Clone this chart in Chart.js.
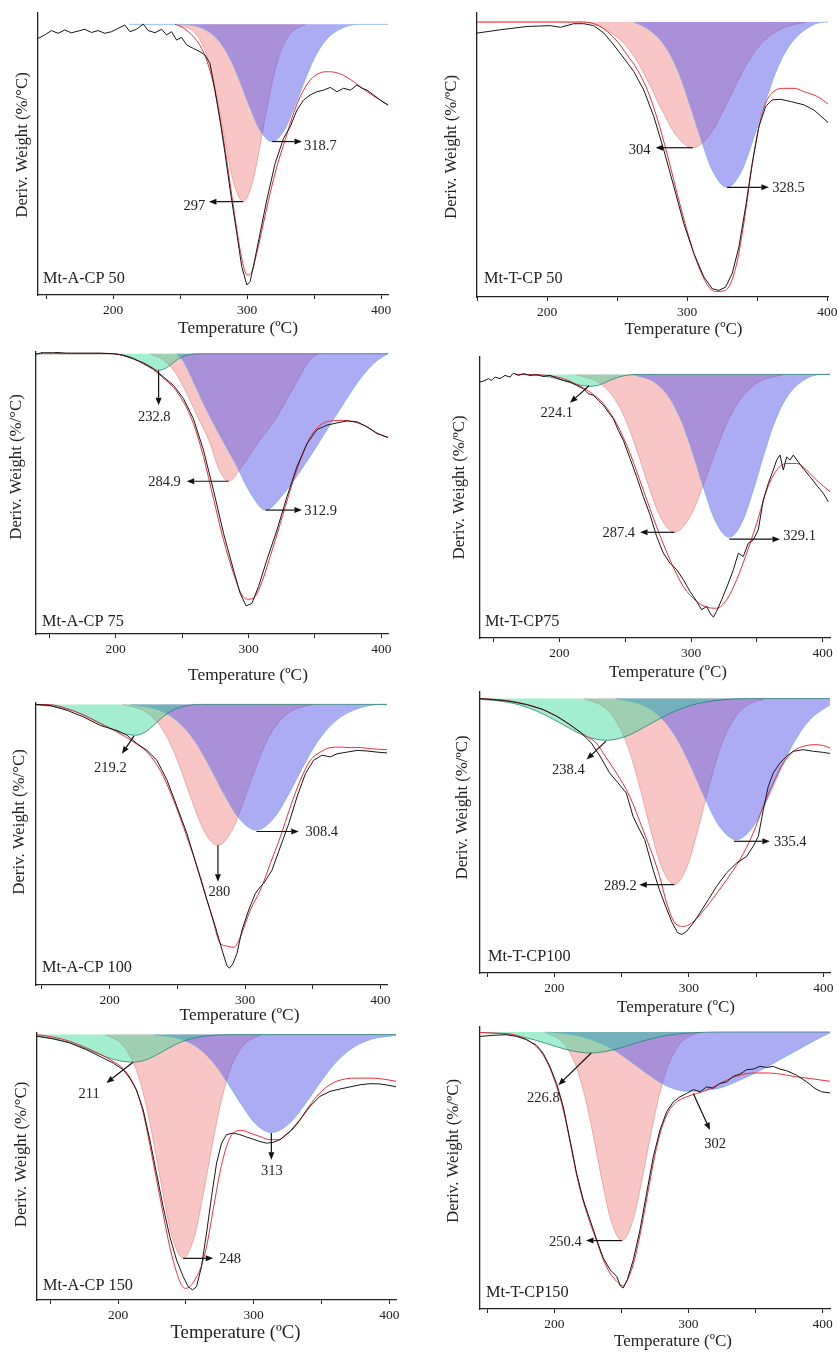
<!DOCTYPE html>
<html><head><meta charset="utf-8">
<script src="https://cdn.jsdelivr.net/npm/chart.js@4.4.0/dist/chart.umd.min.js"></script>
<style>
html,body{margin:0;padding:0;background:#fff;}
body{width:837px;height:1354px;position:relative;overflow:hidden;}
canvas{position:absolute;}
</style></head><body>
<script>
// ---------------- DATA ----------------
const panelNames = ['Mt-A-CP 50','Mt-T-CP 50','Mt-A-CP 75','Mt-T-CP75','Mt-A-CP 100','Mt-T-CP100','Mt-A-CP 150','Mt-T-CP150'];
const xTitle = 'Temperature (ºC)';
const yTitles = ['Deriv. Weight (%/°C)','Deriv. Weight (%/ºC)','Deriv. Weight (%/°C)','Deriv. Weight (%/ºC)','Deriv. Weight (%/°C)','Deriv. Weight (%/ºC)','Deriv. Weight (%/°C)','Deriv. Weight (%/ºC)'];
const tickValues = [150, 200, 250, 300, 350, 400];
const labelledTicks = [200, 300, 400];
const xRanges = [[143.9,405.2],[150,400.5],[140,405],[139.7,405.6],[145.6,404.9],[144.7,405],[140.2,404.9],[144.6,405.5]];
const yTops = [4.2, 3.3, 0.6, 6.6, 0.5, 2.4, 0.6, 1.8];
const yBottom = -100;

// Panel 1: Mt-A-CP 50
const p1Exp = [[143.9,-5.2],[148.9,-3.9],[153.9,-2.3],[158.9,-3.3],[163.8,-2.1],[168.8,-3.1],[173.8,-2.5],[178.8,-1.8],[183.8,-3.0],[188.8,-2.3],[193.8,-3.3],[198.8,-2.7],[203.7,-1.5],[208.7,-0.2],[212.5,-2.7],[217.5,-1.8],[222.4,0.1],[226.2,-2.3],[231.2,-3.1],[236.2,-1.8],[239.9,-3.9],[243.6,-2.7],[247.4,-5.8],[251.1,-4.8],[254.9,-7.6],[259.9,-8.9],[264.8,-10.1],[268.6,-11.3],[272.3,-14.5],[276.1,-24.5],[279.8,-35.5],[283.5,-47.5],[287.3,-61.0],[292.3,-77.2],[296.0,-89.5],[299.8,-96.3],[302.2,-95.1],[304.7,-89.5],[309.7,-77.2],[314.7,-64.9],[320.9,-51.4],[327.2,-42.1],[332.2,-37.8],[337.2,-31.7],[342.1,-28.0],[347.1,-26.1],[352.1,-24.9],[357.1,-24.3],[362.1,-23.3],[367.1,-24.9],[372.1,-23.6],[377.1,-24.3],[382.0,-22.4],[385.8,-23.6],[389.5,-24.3],[394.5,-26.1],[399.5,-28.0],[405.2,-29.8]];
const p1Fit = [[246.1,0],[251.1,-0.9],[256.1,-2.7],[261.1,-5.2],[266.1,-8.9],[269.8,-13.2],[274.8,-21.8],[279.8,-34.7],[284.8,-50.1],[289.8,-67.4],[294.8,-83.4],[298.5,-91.4],[300.2,-92.6],[303.5,-91.4],[307.2,-84.6],[312.2,-73.5],[317.2,-62.4],[322.2,-52.6],[328.4,-42.7],[333.4,-34.7],[339.7,-26.7],[347.1,-20.6],[354.6,-17.9],[360.8,-17.5],[369.6,-18.3],[379.6,-21.2],[389.5,-24.9],[399.5,-28.0],[405.2,-29.8]];
const p1Red = [[247,0],[261.5,-3.3],[268.7,-9.8],[274.5,-19.7],[279.9,-32.8],[284.7,-45.9],[290.3,-59.0],[297,-65.5],[303.7,-59.0],[309.3,-45.9],[314.1,-32.8],[319.5,-19.7],[325.3,-9.8],[332.5,-3.3],[343.4,0]];
const p1Blue = [[212,0],[250,0],[269.7,-2.2],[279.7,-6.5],[287.7,-13.0],[295.1,-21.7],[301.8,-30.3],[309.5,-39.0],[318.7,-43.3],[327.9,-39.0],[335.6,-30.3],[342.3,-21.7],[349.7,-13.0],[357.7,-6.5],[367.7,-2.2],[382.7,0],[405.2,0]];
const p1Green = null;
const p1Arrows = [
  {text:'318.7', from:[318.7,-43.3], to:[341,-43.3], at:[342.5,-45], align:'left'},
  {text:'297', from:[297,-65.5], to:[271.5,-65.5], at:[268.8,-67], align:'right'}
];

// Panel 2: Mt-T-CP 50
const p2Exp = [[150,-4.0],[166.7,-2.8],[185.7,-1.6],[202.4,-1.3],[209.5,-1.9],[219,-0.6],[226.2,-0.6],[233.3,-1.3],[240.5,-4.0],[247.6,-8.3],[254.8,-13.1],[261.9,-18.0],[269,-24.7],[276.2,-34.4],[283.3,-46.5],[290.5,-59.9],[297.6,-73.3],[304.8,-84.2],[311.9,-92.7],[317.9,-97.0],[322.6,-97.6],[327.4,-96.4],[332.1,-91.5],[336.9,-81.8],[341.7,-67.2],[346.4,-51.4],[351.2,-38.0],[356,-30.7],[360.7,-28.3],[366.7,-28.1],[373.8,-28.9],[383.3,-30.1],[390.5,-32.0],[400.5,-36.5]];
const p2Fit = [[150,0],[226.2,0],[235.7,-1.0],[242.9,-3.4],[250,-7.0],[257.1,-11.9],[264.3,-17.2],[271.4,-24.5],[278.6,-35],[285.7,-48],[292.9,-62.5],[300,-76],[307.1,-87.5],[314.3,-95.5],[320.2,-98.0],[326.2,-97.8],[331,-95.1],[335.7,-87],[340.5,-73],[345.2,-56],[350,-41],[356,-29.5],[361.9,-25.2],[369,-24.1],[376.2,-24.1],[383.3,-25.3],[392.9,-27.1],[400.5,-29.8]];
const p2Red = [[150,0],[226,0],[240.3,-2.3],[253.3,-6.9],[263.7,-13.7],[273.3,-22.9],[282,-32.0],[292,-41.1],[304,-45.7],[316,-41.1],[326,-32.0],[334.7,-22.9],[344.3,-13.7],[354.7,-6.9],[367.7,-2.3],[385,0]];
const p2Blue = [[262,0],[273.4,-3.0],[284.6,-9.0],[293.6,-18.0],[301.9,-30.1],[309.5,-42.1],[318.1,-54.1],[328.5,-60.1],[338.9,-54.1],[347.5,-42.1],[355.1,-30.1],[363.4,-18.0],[372.4,-9.0],[383.6,-3.0],[398,0],[400.5,0]];
const p2Green = null;
const p2Arrows = [
  {text:'304', from:[304,-45.7], to:[277.4,-45.7], at:[273.8,-46.6], align:'right'},
  {text:'328.5', from:[328.5,-60.1], to:[358.3,-60.1], at:[360.7,-60.6], align:'left'}
];

// Panel 3: Mt-A-CP 75
const p3Exp = [[140,-0.2],[145.5,0.5],[153,0.5],[163.1,0.2],[175.6,0.2],[188.2,0.2],[198.2,0],[205.8,-0.6],[213.3,-1.8],[220.9,-3.3],[228.4,-5.3],[235.9,-8.3],[243.5,-11.3],[251,-16.0],[258.5,-23.2],[266.1,-34.4],[273.6,-48.7],[281.2,-64.1],[288.7,-77.2],[293.7,-85.5],[298.2,-90.0],[302.5,-89.1],[307.5,-83.1],[313.8,-73.6],[321.4,-62.9],[328.9,-51.1],[336.4,-40.4],[344,-32.1],[351.5,-27.1],[359,-25.5],[366.6,-24.7],[374.1,-24.0],[381.7,-24.3],[389.2,-26.1],[396.7,-28.5],[405,-29.9]];
const p3Fit = [[140,0],[198.2,0],[205.8,-0.7],[213.3,-1.9],[220.9,-3.6],[228.4,-5.7],[235.9,-8.7],[243.5,-12.1],[251,-17.2],[258.5,-24.9],[266.1,-36.8],[273.6,-51.7],[281.2,-66.5],[288.7,-78.4],[295,-86.1],[300,-87.6],[305,-86.6],[310.1,-81.4],[316.3,-72.4],[323.9,-60.6],[331.4,-48.7],[339,-38.0],[346.5,-29.7],[354,-25.5],[361.6,-24.0],[371.6,-23.8],[379.1,-24.3],[389.2,-26.1],[396.7,-28.3],[405,-29.9]];
const p3Red = [[226,0],[236,-2.3],[245,-6.8],[253,-13.7],[262,-22.8],[271,-31.9],[277.5,-41.0],[284.9,-45.5],[294,-41.0],[307,-31.9],[321,-22.8],[332,-13.7],[340,-6.8],[346,-2.3],[352,0]];
const p3Blue = [[246,0],[251,-2.8],[257,-8.4],[265,-16.7],[277,-27.9],[290,-39.1],[302,-50.2],[312.9,-55.8],[326,-50.2],[343,-39.1],[358,-27.9],[373,-16.7],[385,-8.4],[396,-2.8],[405,0]];
const p3Green = [[140,0],[194.4,0],[203.4,-0.3],[209.4,-0.9],[214.2,-1.8],[218.6,-3.0],[222.7,-4.1],[227.3,-5.3],[232.8,-5.9],[237.2,-5.3],[241,-4.1],[244,-3.0],[247.5,-1.8],[251.3,-0.9],[256.1,-0.3],[263.2,0],[405,0]];
const p3Arrows = [
  {text:'232.8', from:[232.3,-5.9], to:[232.3,-18.4], at:[229,-22.8], align:'center'},
  {text:'284.9', from:[284.9,-45.5], to:[253.5,-45.5], at:[249,-45.8], align:'right'},
  {text:'312.9', from:[312.9,-55.8], to:[340.2,-55.8], at:[342,-56.3], align:'left'}
];

// Panel 4: Mt-T-CP75
const p4Exp = [[139.7,-2.9],[143.5,-2.3],[146,-1.6],[148.6,-2.3],[151.1,-1.0],[154.9,-1.6],[158.7,-0.4],[162.5,-1.0],[165.1,0.5],[168.9,-0.4],[172.7,0.3],[177.7,-0.4],[182.8,-0.1],[187.8,-0.8],[192.9,-0.4],[198,-1.4],[203,-2.3],[208.1,-2.9],[213.2,-4.2],[218.2,-5.4],[222,-7.3],[225.8,-7.9],[229.6,-9.8],[233.4,-11.7],[237.2,-14.3],[241,-16.8],[244.8,-21.2],[248.6,-25.0],[253.7,-31.9],[258.7,-38.8],[263.8,-46.4],[268.9,-53.3],[273.9,-61.5],[279,-67.8],[284.1,-71.7],[289.1,-74.1],[294.2,-77.9],[299.2,-82.3],[304.3,-86.1],[308.1,-89.3],[311.9,-88.0],[314.4,-90.5],[317,-92.1],[319.5,-89.8],[323.3,-85.5],[328.4,-79.2],[332.2,-74.1],[336,-67.8],[339.7,-69.1],[343.5,-64.1],[347.3,-62.8],[351.1,-59.0],[354.9,-47.7],[358.7,-41.4],[362.5,-36.3],[365.1,-32.5],[367.6,-30.6],[370.1,-36.3],[372.7,-31.3],[375.2,-32.5],[377.7,-30.6],[381.5,-33.2],[385.3,-35.7],[390.4,-38.8],[395.4,-42.0],[400.5,-45.1],[404.3,-48.3]];
const p4Fit = [[166.3,0],[180.3,-0.1],[192.9,-0.5],[203,-1.6],[213.2,-3.8],[223.3,-6.7],[233.4,-11.1],[243.5,-18.7],[253.7,-30.0],[263.8,-43.9],[273.9,-57.8],[284.1,-70.4],[294.2,-80.5],[304.3,-86.1],[311.9,-88.3],[319.5,-88.7],[327.1,-85.5],[334.7,-77.9],[342.3,-67.8],[349.9,-56.5],[357.5,-43.9],[365.1,-36.3],[372.7,-33.8],[380.3,-33.8],[387.8,-36.3],[395.4,-40.1],[405.6,-44.5]];
const p4Red = [[212.2,0],[229.8,-3.0],[241.6,-9.0],[251,-18.0],[259.7,-30.0],[267.5,-41.9],[276.6,-53.9],[287.4,-59.9],[299.4,-53.9],[309.4,-41.9],[318.1,-30.0],[327.7,-18.0],[338.1,-9.0],[351.1,-3.0],[370.6,0]];
const p4Blue = [[255.5,0],[272.7,-3.1],[284.2,-9.3],[293.4,-18.5],[302,-30.9],[309.7,-43.3],[318.5,-55.6],[329.1,-61.8],[339.2,-55.6],[347.7,-43.3],[355.1,-30.9],[363.2,-18.5],[372,-9.3],[383,-3.1],[399.5,0],[405.6,0]];
const p4Green = [[166.5,0],[180,-0.2],[189,-0.7],[196.2,-1.4],[202.9,-2.3],[208.9,-3.2],[215.8,-4.1],[224.1,-4.5],[229.6,-4.1],[234.2,-3.2],[238.3,-2.3],[242.7,-1.4],[247.5,-0.7],[253.5,-0.2],[262.5,0],[405.6,0]];
const p4Arrows = [
  {text:'224.1', from:[222.5,-4.3], to:[208.1,-10.8], at:[198,-14.6], align:'center'},
  {text:'287.4', from:[287.4,-59.9], to:[261.3,-59.9], at:[257.5,-60.3], align:'right'},
  {text:'329.1', from:[329.1,-62.5], to:[367.6,-62.5], at:[370.1,-61.2], align:'left'}
];

// Panel 5: Mt-A-CP 100
const p5Exp = [[145.6,0],[156.2,-0.4],[168.5,-2.1],[180.8,-4.5],[193.1,-7.5],[205.4,-9.3],[212.8,-11.0],[220.2,-14.0],[227.6,-16.4],[234.9,-19.9],[242.4,-27.0],[249.8,-36.5],[257.1,-46.0],[264.5,-57.9],[271.9,-69.8],[278.1,-79.2],[283,-87.5],[286.7,-93.2],[288.5,-94.0],[291,-92.5],[294.1,-88.7],[297.8,-80.4],[302.7,-73.3],[307.6,-67.4],[311.3,-65.0],[313.8,-63.8],[319.9,-59.1],[326.1,-50.8],[332.3,-42.5],[338.4,-33.0],[344.6,-24.7],[350.7,-19.9],[356.9,-18.1],[363.1,-18.7],[368,-17.6],[375.4,-17.0],[382.8,-16.4],[390.1,-16.6],[397.5,-17.0],[404.9,-17.3]];
const p5Fit = [[145.6,0],[156.2,-0.1],[168.5,-1.5],[180.8,-3.9],[193.1,-6.9],[205.4,-9.8],[217.7,-13.4],[227.6,-17.0],[237.4,-23.5],[247.3,-34.2],[257.1,-47.2],[267,-61.4],[275.6,-75.7],[281.8,-85.2],[286.7,-86.1],[291.6,-86.6],[296.6,-82.8],[303.9,-73.3],[311.3,-66.2],[318.7,-56.7],[326.1,-47.2],[333.5,-36.5],[340.9,-27.0],[348.3,-19.9],[355.7,-17.0],[363.1,-15.4],[370.4,-15.2],[377.8,-15.4],[385.2,-15.4],[392.6,-15.8],[404.9,-16.1]];
const p5Red = [[209.6,0],[226.1,-2.5],[237.1,-7.5],[245.9,-15.1],[254,-25.1],[261.4,-35.1],[269.9,-45.2],[280,-50.2],[290.1,-45.2],[298.6,-35.1],[306,-25.1],[314.1,-15.1],[322.9,-7.5],[333.9,-2.5],[350.4,0]];
const p5Blue = [[215.6,0],[237.3,-2.2],[251.8,-6.7],[263.4,-13.4],[274.2,-22.4],[283.9,-31.4],[295.1,-40.3],[308.4,-44.8],[321.7,-40.3],[332.9,-31.4],[342.6,-22.4],[353.4,-13.4],[365,-6.7],[379.5,-2.2],[401.2,0],[404.9,0]];
const p5Green = [[145.6,-0.2],[155.5,-0.55],[168.5,-1.65],[178.9,-3.3],[188.5,-5.5],[197.2,-7.7],[207.2,-9.9],[219.2,-11.0],[226.1,-9.9],[231.9,-7.7],[236.9,-5.5],[242.5,-3.3],[248.5,-1.65],[256,-0.55],[267.2,0],[404.9,0]];
const p5Arrows = [
  {text:'219.2', from:[218,-11.2], to:[209.1,-17.6], at:[200.5,-22.9], align:'center'},
  {text:'280', from:[280,-50.2], to:[280,-63.2], at:[281,-66.9], align:'center'},
  {text:'308.4', from:[308.4,-45.3], to:[339.7,-45.3], at:[344.6,-45.7], align:'left'}
];

// Panel 6: Mt-T-CP100
const p6Exp = [[144.7,0],[154.6,-0.4],[167,-1.0],[179.4,-2.2],[191.8,-4.0],[201.7,-6.4],[211.6,-9.5],[220,-12.5],[227.5,-16.2],[234,-21],[241.1,-27.1],[247,-30.5],[253.5,-34.4],[258.5,-42.9],[263,-47.5],[267.2,-51.4],[273.4,-62.3],[278,-69.5],[283,-76],[287.5,-81.5],[291.5,-85.2],[294.7,-86.0],[298.4,-84.8],[303.3,-81.8],[308.3,-78.1],[314.5,-73.3],[320.7,-68.4],[328.1,-63.5],[335.6,-59.9],[343,-57.5],[347.9,-53.8],[351.7,-50.2],[355.4,-40.5],[359.1,-32.0],[362.8,-27.1],[367.8,-23.5],[372.7,-21.0],[377.7,-19.2],[385.1,-18.6],[392.6,-19.2],[400,-19.6],[405,-20.0]];
const p6Fit = [[144.7,0],[159.6,-0.4],[172,-1.3],[184.4,-2.8],[196.8,-5.2],[206.7,-7.9],[216.6,-11.3],[224,-13.8],[231.2,-16.2],[238.5,-21.5],[246.1,-27.1],[256,-35.6],[265.9,-47.8],[273.4,-57.5],[278.3,-64.8],[283.5,-74.5],[289.7,-81.8],[295.9,-83.0],[302.1,-81.8],[309.5,-78.1],[318.2,-72.7],[328.1,-66.0],[338,-58.7],[347.9,-49.0],[355.4,-39.2],[362.8,-30.7],[370.3,-23.5],[377.7,-19.2],[385.1,-17.4],[393.8,-16.8],[400,-17.1],[405,-18.0]];
const p6Red = [[222,0],[237.7,-3.4],[248.2,-10.2],[256.6,-20.3],[264.4,-33.9],[271.5,-47.5],[279.5,-61.0],[289.2,-67.8],[298.9,-61.0],[306.9,-47.5],[314,-33.9],[321.8,-20.3],[330.2,-10.2],[340.7,-3.4],[356.4,0]];
const p6Blue = [[245.8,0],[266.8,-2.6],[280.8,-7.7],[292,-15.4],[302.4,-25.7],[311.7,-36.0],[322.5,-46.3],[335.4,-51.4],[348.3,-46.3],[359.1,-36.0],[368.4,-25.7],[378.8,-15.4],[390,-7.7],[404,-2.6],[405,-2.3]];
const p6Green = [[144.7,-0.3],[157.5,-0.76],[174,-2.3],[187.2,-4.6],[199.5,-7.6],[210.5,-10.6],[223.2,-13.7],[238.4,-15.2],[253.6,-13.7],[266.3,-10.6],[277.3,-7.6],[289.6,-4.6],[302.8,-2.3],[319.3,-0.76],[344,0],[405,0]];
const p6Arrows = [
  {text:'238.4', from:[238.4,-15.5], to:[224,-22.2], at:[210.4,-26.2], align:'center'},
  {text:'289.2', from:[289.2,-67.8], to:[263.2,-67.8], at:[261.2,-68.2], align:'right'},
  {text:'335.4', from:[333.5,-52.0], to:[360.3,-52.0], at:[363.3,-52.3], align:'left'}
];

// Panel 7: Mt-A-CP 150
const p7Exp = [[140.2,-0.6],[152,-1.6],[164.3,-3.1],[176.6,-5.7],[186.5,-8.2],[196.3,-10.7],[203.7,-13.2],[208.6,-16.4],[213.5,-20.8],[218.5,-28.3],[223.4,-39.6],[228.3,-52.2],[233.2,-64.8],[238.1,-76.1],[243.1,-84.9],[248,-91.2],[251.7,-95.0],[254.9,-96.2],[257.8,-95.0],[261.5,-87.4],[265.2,-74.8],[268.9,-61.0],[272.6,-48.4],[276.3,-40.9],[279.9,-37.7],[284.9,-37.1],[289.8,-37.7],[294.7,-38.6],[299.6,-39.4],[304.6,-40.3],[309.5,-40.9],[314.4,-40.6],[319.3,-39.6],[326.7,-36.5],[334.1,-32.1],[341.5,-27.0],[348.8,-23.3],[356.2,-21.4],[363.6,-20.5],[371,-19.7],[378.4,-18.9],[385.7,-18.5],[393.1,-18.6],[400.5,-19.2],[404.9,-19.7]];
const p7Fit = [[140.2,0],[152,-0.9],[164.3,-2.5],[176.6,-5.0],[186.5,-7.3],[196.3,-10.1],[203.7,-12.8],[208.6,-16.0],[213.5,-21],[218.5,-29.5],[223.4,-41.5],[228.3,-54.5],[233.2,-67.5],[238.1,-80],[243.1,-89.5],[247.5,-95.0],[250.4,-95.6],[254.1,-94.3],[257.5,-91.5],[260.3,-88.7],[265.2,-79.9],[270.1,-66.0],[275,-52.2],[280,-42.1],[284.9,-37.1],[291,-36.1],[297.2,-37.1],[304.6,-38.4],[311.9,-39.6],[318.1,-39.6],[324.2,-37.7],[331.6,-34.0],[339,-28.3],[346.4,-23.3],[353.8,-19.7],[361.1,-17.6],[368.5,-16.6],[375.9,-16.4],[383.3,-16.4],[393.1,-16.6],[404.9,-17.6]];
const p7Red = [[190.4,0],[203.9,-4.2],[212.9,-12.6],[220.1,-25.3],[226.8,-42.2],[232.8,-59.0],[239.7,-75.9],[248,-84.3],[256.3,-75.9],[263.2,-59.0],[269.2,-42.2],[275.9,-25.3],[283.1,-12.6],[292.1,-4.2],[305.6,0]];
const p7Blue = [[226.6,0],[246.8,-1.8],[260.3,-5.5],[271.1,-11.1],[281.1,-18.5],[290.2,-25.8],[300.6,-33.2],[313,-36.9],[326.8,-33.2],[338.4,-25.8],[348.4,-18.5],[359.5,-11.1],[371.5,-5.5],[386.5,-1.8],[404.9,-0.35]];
const p7Green = [[140.2,-0.65],[152.5,-1.56],[164.5,-3.1],[175.6,-5.2],[185.6,-7.3],[197.2,-9.4],[211,-10.4],[221.1,-9.4],[229.6,-7.3],[237,-5.2],[245.1,-3.1],[253.9,-1.56],[264.9,-0.52],[281.4,0],[404.9,0]];
const p7Arrows = [
  {text:'211', from:[211,-10.4], to:[191.4,-18.2], at:[178.6,-22.3], align:'center'},
  {text:'248', from:[248,-84.3], to:[270.1,-84.3], at:[274.5,-84.7], align:'left'},
  {text:'313', from:[313,-37.1], to:[313,-47.2], at:[313.3,-51.6], align:'center'}
];

// Panel 8: Mt-T-CP150
const p8Exp = [[144.6,-1.6],[154.5,-1.2],[164.5,-1.0],[171.9,-1.6],[179.4,-2.8],[186.8,-4.8],[191.8,-7.8],[196.8,-12.6],[201.7,-18.6],[206.7,-27.0],[211.7,-39.0],[216.6,-51.0],[221.6,-60.6],[226.6,-67.8],[231.6,-75.0],[236.5,-81.6],[241.5,-85.8],[246.5,-88.2],[249.4,-91.8],[251.4,-92.4],[254.4,-89.4],[258.9,-82.2],[263.9,-71.4],[268.8,-58.2],[273.8,-45.0],[278.8,-35.4],[283.7,-28.8],[288.7,-25.2],[293.7,-23.4],[298.6,-22.2],[303.6,-20.8],[308.6,-21.6],[313.5,-19.8],[318.5,-20.3],[323.5,-18.6],[328.4,-18.0],[333.4,-16.0],[338.4,-15.2],[343.4,-13.6],[348.3,-13.4],[353.3,-12.4],[358.3,-12.8],[363.2,-12.4],[368.2,-13.4],[373.2,-14.0],[380.6,-15.6],[388.1,-18.0],[394.3,-20.4],[399.3,-21.6],[405.5,-22.0]];
const p8Fit = [[144.6,-0.2],[154.5,-0.4],[164.5,-0.6],[171.9,-1.2],[179.4,-2.8],[186.8,-5.4],[191.8,-8.4],[196.8,-13.2],[201.7,-19.6],[206.7,-28.2],[211.7,-39.6],[216.6,-51.6],[221.6,-61.2],[226.6,-68.8],[231.6,-75.6],[236.5,-82.2],[241.5,-87.0],[246.5,-90.0],[250.9,-91.6],[255.2,-88.8],[260.1,-81.6],[265.1,-70.2],[270.1,-57.0],[275,-44.4],[280,-34.8],[285,-28.8],[291.2,-25.2],[298.6,-23.4],[306.1,-22.2],[313.5,-21.0],[321,-19.2],[328.4,-17.4],[335.9,-16.0],[343.4,-15.0],[350.8,-14.8],[358.3,-14.8],[365.7,-15.0],[373.2,-15.6],[380.6,-16.2],[390.6,-16.8],[405.5,-17.8]];
const p8Red = [[192.8,0],[206.3,-3.8],[215.3,-11.3],[222.5,-22.6],[229.2,-37.7],[235.2,-52.7],[242.1,-67.8],[250.4,-75.3],[258.7,-67.8],[265.6,-52.7],[271.6,-37.7],[278.3,-22.6],[285.5,-11.3],[294.5,-3.8],[308,0]];
const p8Blue = [[195,0],[215,-1.1],[230,-3.2],[244,-6.4],[257,-10.7],[269,-15.0],[283,-19.3],[295,-21.2],[302,-21.4],[310,-21.2],[325,-20.0],[340,-17.0],[355,-13.5],[370,-9.5],[385,-5.5],[395,-2.8],[405.5,-0.3]];
const p8Green = [[144.6,-0.17],[153.5,-0.38],[168.5,-1.14],[180.5,-2.28],[191.6,-3.8],[201.6,-5.3],[213.2,-6.8],[227,-7.6],[240.8,-6.8],[252.4,-5.3],[262.4,-3.8],[273.5,-2.28],[285.5,-1.14],[300.5,-0.38],[323,0],[405.5,0]];
const p8Arrows = [
  {text:'226.8', from:[227.5,-7.6], to:[203,-19.2], at:[191.8,-24.0], align:'center'},
  {text:'250.4', from:[250.4,-75.3], to:[223.6,-75.3], at:[220.4,-75.8], align:'right'},
  {text:'302', from:[303.6,-22.2], to:[316,-35.4], at:[319.8,-40.5], align:'center'}
];

// ---------------- LAYOUT (positions/styles only) ----------------
const panelBoxes = [
  {L:38, T:13, R:388, B:295,  xt:[25,33,17.3], yt:[15,-9],  lab:[5,-16]},
  {L:477,T:13, R:828, B:297,  xt:[31,33,17],   yt:[25,-8],  lab:[7,-18]},
  {L:36, T:352,R:388, B:634,  xt:[36,41,17.3], yt:[19,-26], lab:[6,-12]},
  {L:480,T:357,R:830, B:638,  xt:[13,35,17],   yt:[20,-10], lab:[5,-16]},
  {L:36, T:703,R:387, B:985,  xt:[28,30,17.3], yt:[16,-22], lab:[6,-17]},
  {L:480,T:692,R:830, B:973,  xt:[21,35,17],   yt:[17,-25], lab:[8,-16]},
  {L:37, T:1033,R:396,B:1300, xt:[19,33,18.8], yt:[15,-12], lab:[6,-14]},
  {L:480,T:1027,R:830,B:1309, xt:[18,33,17],   yt:[26,-17], lab:[6,-16]}
];
const FONT = '"Liberation Serif", "Times New Roman", serif';
const TEXT = '#222';

const panels = [
  {exp:p1Exp, fit:p1Fit, red:p1Red, blue:p1Blue, green:p1Green, arrows:p1Arrows},
  {exp:p2Exp, fit:p2Fit, red:p2Red, blue:p2Blue, green:p2Green, arrows:p2Arrows},
  {exp:p3Exp, fit:p3Fit, red:p3Red, blue:p3Blue, green:p3Green, arrows:p3Arrows},
  {exp:p4Exp, fit:p4Fit, red:p4Red, blue:p4Blue, green:p4Green, arrows:p4Arrows},
  {exp:p5Exp, fit:p5Fit, red:p5Red, blue:p5Blue, green:p5Green, arrows:p5Arrows},
  {exp:p6Exp, fit:p6Fit, red:p6Red, blue:p6Blue, green:p6Green, arrows:p6Arrows},
  {exp:p7Exp, fit:p7Fit, red:p7Red, blue:p7Blue, green:p7Green, arrows:p7Arrows},
  {exp:p8Exp, fit:p8Fit, red:p8Red, blue:p8Blue, green:p8Green, arrows:p8Arrows}
];

function drawArrow(ctx, x1, y1, x2, y2) {
  const ang = Math.atan2(y2 - y1, x2 - x1);
  const hl = 7.5, hw = 3;
  const bx = x2 - hl * Math.cos(ang), by = y2 - hl * Math.sin(ang);
  ctx.beginPath(); ctx.moveTo(x1, y1); ctx.lineTo(bx, by); ctx.stroke();
  ctx.beginPath(); ctx.moveTo(x2, y2);
  ctx.lineTo(bx + hw * Math.sin(ang), by - hw * Math.cos(ang));
  ctx.lineTo(bx - hw * Math.sin(ang), by + hw * Math.cos(ang));
  ctx.closePath(); ctx.fill();
}

function makeOverlay(i) {
  const b = panelBoxes[i];
  const p = panels[i];
  return {
    id: 'overlay' + i,
    afterDraw(chart) {
      const ctx = chart.ctx, xs = chart.scales.x, ys = chart.scales.y, ca = chart.chartArea;
      ctx.save();
      ctx.strokeStyle = '#111'; ctx.fillStyle = '#111'; ctx.lineWidth = 1.2;
      p.arrows.forEach(a => {
        drawArrow(ctx, xs.getPixelForValue(a.from[0]), ys.getPixelForValue(a.from[1]),
                       xs.getPixelForValue(a.to[0]), ys.getPixelForValue(a.to[1]));
      });
      ctx.fillStyle = TEXT; ctx.textBaseline = 'middle';
      ctx.font = '14.5px ' + FONT;
      p.arrows.forEach(a => {
        ctx.textAlign = a.align;
        ctx.fillText(a.text, xs.getPixelForValue(a.at[0]), ys.getPixelForValue(a.at[1]));
      });
      // panel label
      ctx.font = '16.3px ' + FONT; ctx.textAlign = 'left';
      ctx.fillText(panelNames[i], ca.left + b.lab[0], ca.bottom + b.lab[1]);
      // x title
      ctx.font = b.xt[2] + 'px ' + FONT; ctx.textAlign = 'center';
      ctx.fillText(xTitle, (ca.left + ca.right) / 2 + b.xt[0], ca.bottom + b.xt[1]);
      // y title
      ctx.font = '16.8px ' + FONT;
      ctx.translate(ca.left - b.yt[0], (ca.top + ca.bottom) / 2 + b.yt[1]);
      ctx.rotate(-Math.PI / 2);
      ctx.fillText(yTitles[i], 0, 0);
      ctx.restore();
    }
  };
}

const toXY = arr => arr.map(([x, y]) => ({x, y}));

panels.forEach((p, i) => {
  const b = panelBoxes[i];
  const YW = 40, TP = 8, XH = 52;
  const rp = Math.min(14, 837 - b.R);
  const W = b.R - b.L + YW + rp, H = b.B - b.T + TP + XH;
  const cv = document.createElement('canvas');
  cv.width = W; cv.height = H;
  cv.style.left = (b.L - YW) + 'px'; cv.style.top = (b.T - TP) + 'px';
  cv.style.width = W + 'px'; cv.style.height = H + 'px';
  document.body.appendChild(cv);

  const ds = [
    {label:'Experimental', data:toXY(p.exp), borderColor:'#161616', borderWidth:1, pointRadius:0, fill:false, tension:0, order:0},
    {label:'Fitted', data:toXY(p.fit), borderColor:'#e6303a', borderWidth:1, pointRadius:0, fill:false, cubicInterpolationMode:'monotone', order:1}
  ];
  if (p.green) ds.push({label:'Peak 1', data:toXY(p.green), borderColor:'rgba(35,125,110,0.85)', borderWidth:0.9,
    backgroundColor:'rgba(50,215,150,0.45)', fill:'origin', pointRadius:0, cubicInterpolationMode:'monotone', order:2});
  ds.push({label:'Peak 3', data:toXY(p.blue), borderColor:'rgba(110,170,235,0.8)', borderWidth:0.9,
    backgroundColor:'rgba(90,90,235,0.5)', fill:'origin', pointRadius:0, cubicInterpolationMode:'monotone', order:3});
  ds.push({label:'Peak 2', data:toXY(p.red), borderColor:'rgba(225,120,120,0.6)', borderWidth:0.9,
    backgroundColor:'rgba(240,120,120,0.42)', fill:'origin', pointRadius:0, cubicInterpolationMode:'monotone', order:4});

  new Chart(cv, {
    type: 'line',
    data: {datasets: ds},
    options: {
      responsive: false, animation: false, devicePixelRatio: 1,
      layout: {padding: {top: TP, right: rp, left: 0, bottom: 0}},
      plugins: {legend: {display: false}, tooltip: {enabled: false}},
      scales: {
        x: {
          type: 'linear', min: xRanges[i][0], max: xRanges[i][1],
          afterBuildTicks: s => { s.ticks = tickValues.filter(v => v >= s.min && v <= s.max).map(v => ({value: v})); },
          ticks: {callback: v => labelledTicks.includes(v) ? String(v) : '', font: {family: FONT, size: 13.5}, color: TEXT,
                  padding: 3, maxRotation: 0, autoSkip: false},
          grid: {display: true, drawOnChartArea: false, drawTicks: true, tickLength: 4, color: '#222', lineWidth: 1},
          border: {display: true, color: '#222', width: 1.3},
          afterFit: s => { s.height = XH; s.paddingLeft = 0; s.paddingRight = 0; }
        },
        y: {
          type: 'linear', min: yBottom, max: yTops[i],
          ticks: {display: false}, grid: {display: false},
          border: {display: true, color: '#222', width: 1.3},
          afterFit: s => { s.width = YW; s.paddingTop = 0; s.paddingBottom = 0; }
        }
      }
    },
    plugins: [makeOverlay(i)]
  });
});
</script>
</body></html>
